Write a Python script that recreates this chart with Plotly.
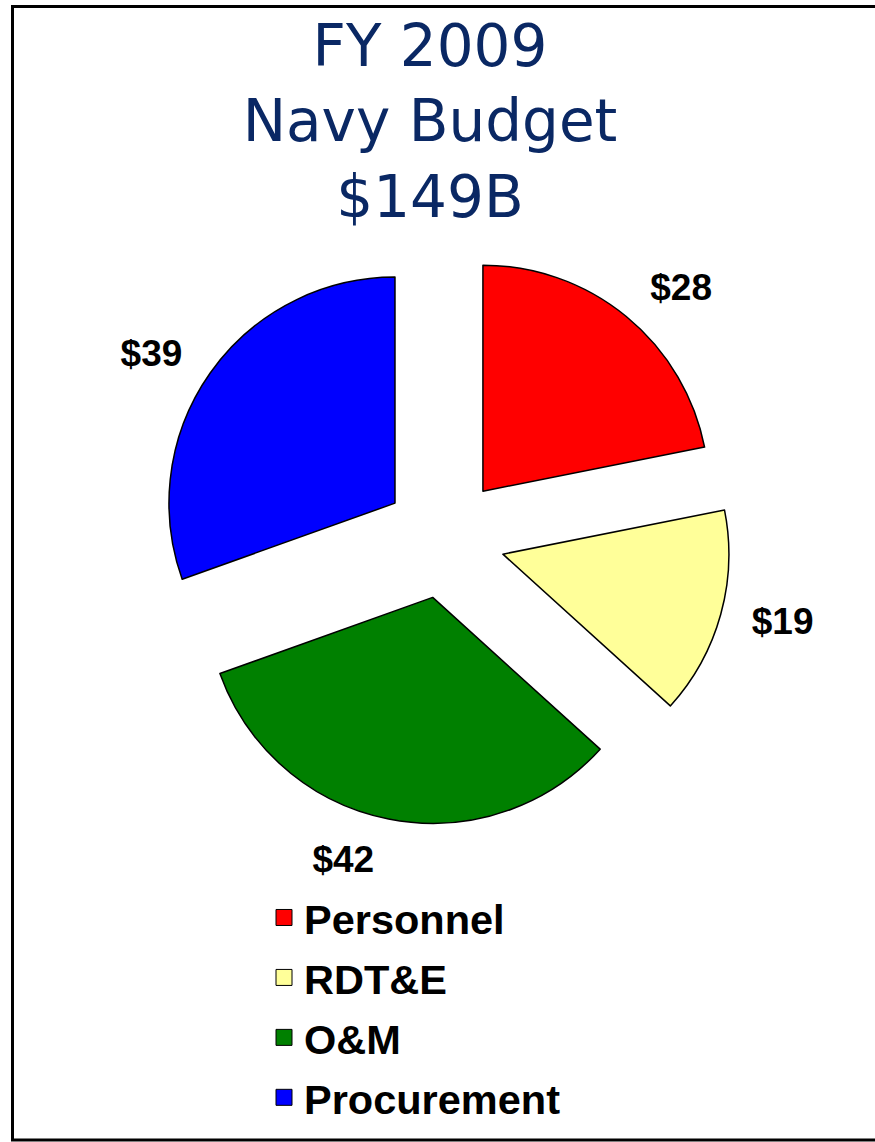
import plotly.graph_objects as go

# FY 2009 Navy budget, $B
categories = ["Personnel", "RDT&E", "O&M", "Procurement"]
values = [28, 19, 42, 39]
colors = ["#FF0000", "#FFFF99", "#008000", "#0000FF"]
title_lines = ["FY 2009", "Navy Budget", "$149B"]

W, H = 875, 1142
PULL = 0.268
label_font = dict(family="Liberation Sans, Arial", size=37, color="black", weight="bold")


def pie_domain(cx, cy, r):
    # square pie box (pixels) around centre cx, cy for radius r and pull
    half = r * (1 + PULL)
    return dict(x=[(cx - half) / W, (cx + half) / W], y=[1 - (cy + half) / H, 1 - (cy - half) / H])


fig = go.Figure()
fig.add_trace(go.Pie(
    labels=categories, values=values, sort=False, direction="clockwise", rotation=0,
    marker=dict(colors=colors, line=dict(color="black", width=1.5)),
    pull=[PULL] * len(values), textinfo="none",
    domain=pie_domain(444.5, 538, 226),
    showlegend=False, hoverinfo="skip",
))
# same slices, invisible and a bit larger: only carries the outside value labels
fig.add_trace(go.Pie(
    labels=categories, values=values, sort=False, direction="clockwise", rotation=0,
    marker=dict(colors=["rgba(0,0,0,0)"] * len(values), line=dict(width=0)),
    pull=[PULL] * len(values),
    texttemplate="$%{value}", textposition="outside", textfont=label_font,
    domain=pie_domain(444.5, 538, 243),
    showlegend=False, hoverinfo="skip",
))

# legend entries as square markers (pie legend squares are tiny)
for i, (name, c) in enumerate(zip(categories, colors)):
    fig.add_trace(go.Scatter(
        x=[None], y=[None], mode="markers", name=name, legendgroup=f"g{i}",
        marker=dict(symbol="square", size=16, color=c, line=dict(color="black", width=1)),
    ))

fig.update_layout(
    width=W, height=H, margin=dict(l=0, r=0, t=0, b=0, autoexpand=False),
    paper_bgcolor="white", plot_bgcolor="white", hovermode=False,
    xaxis=dict(visible=False), yaxis=dict(visible=False),
    title=dict(text="<br>".join(title_lines), x=430 / W, xanchor="center",
               y=1 - 66 / H, yanchor="top",
               font=dict(family="DejaVu Sans", size=58, color="#0A2864")),
    legend=dict(x=264 / W, xanchor="left", y=1 - 884 / H, yanchor="top",
                font=dict(family="Liberation Sans, Arial", size=41.5, color="black", weight="bold"),
                tracegroupgap=3, bgcolor="rgba(0,0,0,0)"),
    shapes=[dict(type="rect", xref="paper", yref="paper",
                 x0=12.5 / W, x1=1.01, y0=1 - 1140 / H, y1=1 - 6.5 / H,
                 line=dict(color="black", width=3))],
)

fig.write_html("out.html", config={"displayModeBar": False},
               post_script="document.body.style.margin='0';")
